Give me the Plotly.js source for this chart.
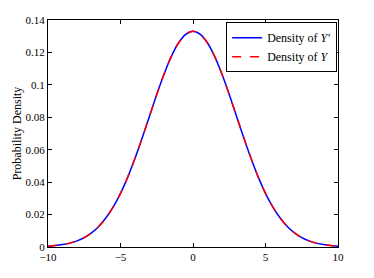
<!DOCTYPE html>
<html><head><meta charset="utf-8">
<script src="https://cdn.plot.ly/plotly-3.0.1.min.js"></script>
<style>html,body{margin:0;padding:0;background:#fff}#chart{width:374px;height:278px}</style>
</head><body><div id="chart"></div>
<script>
// x positions
const xVals = [-10,-9.5,-9,-8.5,-8,-7.5,-7,-6.5,-6,-5.5,-5,-4.5,-4,-3.5,-3,-2.5,-2,-1.5,-1,-0.5,0,0.5,1,1.5,2,2.5,3,3.5,4,4.5,5,5.5,6,6.5,7,7.5,8,8.5,9,9.5,10];
// density of Y'
const densYprime = [0.0005,0.0009,0.0015,0.0024,0.0038,0.0058,0.0087,0.0127,0.0180,0.0247,0.0331,0.0431,0.0547,0.0674,0.0807,0.0940,0.1065,0.1174,0.1258,0.1311,0.1330,0.1311,0.1258,0.1174,0.1065,0.0940,0.0807,0.0674,0.0547,0.0431,0.0331,0.0247,0.0180,0.0127,0.0087,0.0058,0.0038,0.0024,0.0015,0.0009,0.0005];
// density of Y
const densY = [0.0005,0.0009,0.0015,0.0024,0.0038,0.0058,0.0087,0.0127,0.0180,0.0247,0.0331,0.0431,0.0547,0.0674,0.0807,0.0940,0.1065,0.1174,0.1258,0.1311,0.1330,0.1311,0.1258,0.1174,0.1065,0.0940,0.0807,0.0674,0.0547,0.0431,0.0331,0.0247,0.0180,0.0127,0.0087,0.0058,0.0038,0.0024,0.0015,0.0009,0.0005];
const xTicks = [-10,-5,0,5,10];
const yTicks = [0,0.02,0.04,0.06,0.08,0.1,0.12,0.14];

const traces = [
  {x:xVals, y:densYprime, type:'scatter', mode:'lines', name:'Density of <i>Y\u2032</i>',
   line:{color:'#0000ff', width:1.5, shape:'spline', smoothing:1}},
  {x:xVals, y:densY, type:'scatter', mode:'lines', name:'Density of <i>Y</i>',
   line:{color:'#ff0000', width:1.5, dash:'dash', shape:'spline', smoothing:1}}
];
const layout = {
  width:374, height:278,
  margin:{l:48, r:36, t:20, b:31},
  paper_bgcolor:'#fff', plot_bgcolor:'#fff',
  font:{family:'Liberation Serif, Times New Roman, serif', size:11, color:'#000'},
  showlegend:true,
  legend:{x:0.997, y:0.99, xanchor:'right', yanchor:'top', bordercolor:'#000', borderwidth:1,
          bgcolor:'#fff', font:{size:12}, tracegroupgap:0},
  xaxis:{range:[-10,10], tickvals:xTicks, ticktext:xTicks.map(v=>v<0?'\u2212'+Math.abs(v):String(v)),
         ticks:'inside', ticklen:4, tickcolor:'#000', showline:true, linecolor:'#000', linewidth:1,
         mirror:'ticks', showgrid:false, zeroline:false},
  yaxis:{range:[0,0.14], tickvals:yTicks, ticktext:yTicks.map(v=>String(Math.round(v*100)/100)),
         ticks:'inside', ticklen:4, tickcolor:'#000', showline:true, linecolor:'#000', linewidth:1,
         mirror:'ticks', showgrid:false, zeroline:false,
         title:{text:'Probability Density', standoff:1, font:{size:12}}}
};
Plotly.newPlot('chart', traces, layout, {displayModeBar:false, staticPlot:true});
</script></body></html>
